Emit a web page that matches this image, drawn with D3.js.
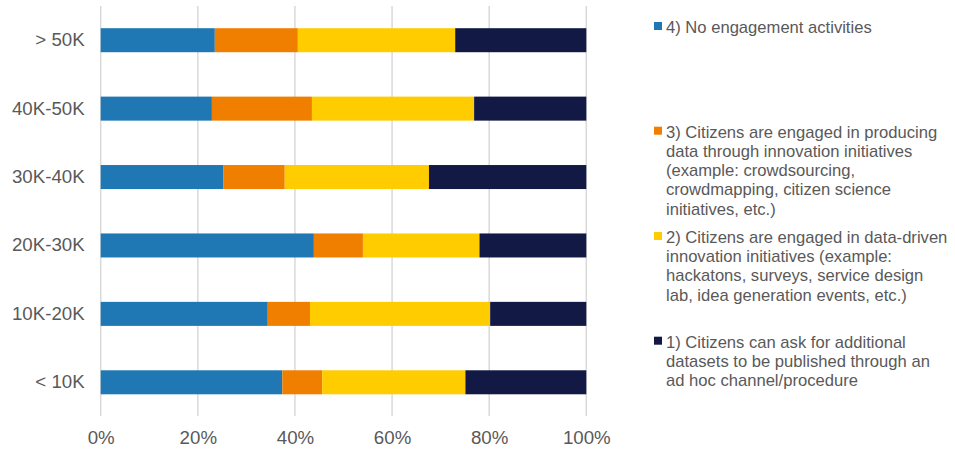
<!DOCTYPE html>
<html><head><meta charset="utf-8">
<script src="https://cdn.jsdelivr.net/npm/d3@7"></script>
<style>body{margin:0;background:#fff;} svg{display:block;font-family:"Liberation Sans",Arial,sans-serif;}</style>
</head><body>
<svg id="c" width="955" height="452"></svg>
<script>
const categories = ["> 50K","40K-50K","30K-40K","20K-30K","10K-20K","< 10K"];
const noEngagement   = [23.5, 22.9, 25.3, 43.9, 34.4, 37.4];
const producingData  = [17.1, 20.6, 12.6, 10.1, 8.7, 8.2];
const dataDriven     = [32.4, 33.4, 29.7, 24.0, 37.1, 29.5];
const askDatasets    = [27.0, 23.1, 32.4, 22.0, 19.8, 24.9];
const seriesNames = [
  "4) No engagement activities",
  "3) Citizens are engaged in producing data through innovation initiatives (example: crowdsourcing, crowdmapping, citizen science initiatives, etc.)",
  "2) Citizens are engaged in data-driven innovation initiatives (example: hackatons, surveys, service design lab, idea generation events, etc.)",
  "1) Citizens can ask for additional datasets to be published through an ad hoc channel/procedure"
];
const legendLines = [
  ["4) No engagement activities"],
  ["3) Citizens are engaged in producing","data through innovation initiatives","(example: crowdsourcing,","crowdmapping, citizen science","initiatives, etc.)"],
  ["2) Citizens are engaged in data-driven","innovation initiatives (example:","hackatons, surveys, service design","lab, idea generation events, etc.)"],
  ["1) Citizens can ask for additional","datasets to be published through an","ad hoc channel/procedure"]
];
const xTicks = [0,20,40,60,80,100];
const colors = ["#1f78b4","#f07f00","#ffcc00","#121945"];

const svg = d3.select("#c");
const x = d3.scaleLinear().domain([0,100]).range([100.7,586.3]);
const y = d3.scaleBand().domain(categories).range([6,416.5]).paddingInner(0.649).paddingOuter(0.3245);

// gridlines
svg.append("g").selectAll("line").data(xTicks).join("line")
  .attr("x1",d=>x(d)).attr("x2",d=>x(d)).attr("y1",6).attr("y2",416)
  .attr("stroke","#d9d9d9").attr("stroke-width",1.5);

const rows = categories.map((c,i)=>({cat:c, v:[noEngagement[i],producingData[i],dataDriven[i],askDatasets[i]]}));
const stacked = d3.stack().keys([0,1,2,3]).value((d,k)=>d.v[k])(rows);

svg.append("g").selectAll("g").data(stacked).join("g")
  .attr("fill",(d,i)=>colors[i])
  .selectAll("rect").data(d=>d).join("rect")
  .attr("x",d=>x(d[0])).attr("width",d=>x(d[1])-x(d[0]))
  .attr("y",d=>y(d.data.cat)).attr("height",y.bandwidth());

// y axis labels
const yAxis = svg.append("g").attr("transform","translate(100.7,0)")
  .call(d3.axisLeft(y).tickSize(0).tickPadding(16));
yAxis.select(".domain").remove();
yAxis.selectAll("text").attr("font-size","18.7px").attr("fill","#595959")
  .attr("font-family","'Liberation Sans',Arial,sans-serif");

// x axis labels
const xAxis = svg.append("g").attr("transform","translate(0,416)")
  .call(d3.axisBottom(x).tickValues(xTicks).tickFormat(d=>d+"%").tickSize(0).tickPadding(15));
xAxis.select(".domain").remove();
xAxis.selectAll("text").attr("font-size","18.7px").attr("fill","#595959")
  .attr("font-family","'Liberation Sans',Arial,sans-serif");

// legend
const legendTop = [33, 137.7, 243, 347.7];
const lg = svg.append("g");
legendLines.forEach((lines,i)=>{
  lg.append("rect").attr("x",654).attr("y",legendTop[i]-11).attr("width",8).attr("height",8).attr("fill",colors[i]);
  const t = lg.append("text").attr("x",666).attr("y",legendTop[i])
    .attr("font-size","16.6px").attr("fill","#595959");
  lines.forEach((ln,j)=>{
    t.append("tspan").attr("x",666).attr("y",legendTop[i]+j*19.2).text(ln);
  });
});
</script>
</body></html>
